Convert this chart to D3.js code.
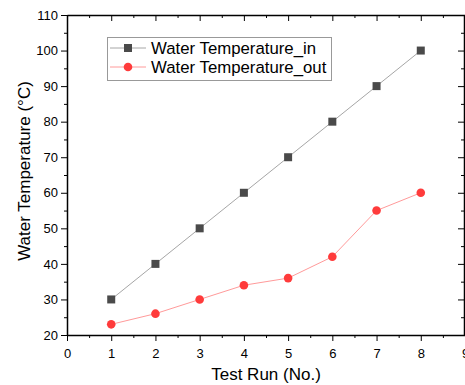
<!DOCTYPE html>
<html>
<head>
<meta charset="utf-8">
<script src="https://cdn.jsdelivr.net/npm/d3@7"></script>
<style>
  body { margin: 0; background: #fff; }
  svg { display: block; font-family: "Liberation Sans", Arial, sans-serif; }
</style>
</head>
<body>
<svg id="chart" width="465" height="385"></svg>
<script>
// data
const runs = [1, 2, 3, 4, 5, 6, 7, 8];
const tempIn = [30, 40, 50, 60, 70, 80, 90, 100];
const tempOut = [23, 26, 30, 34, 36, 42, 55, 60];
const xTicks = [0, 1, 2, 3, 4, 5, 6, 7, 8, 9];
const yTicks = [20, 30, 40, 50, 60, 70, 80, 90, 100, 110];
const seriesNames = ['Water Temperature_in', 'Water Temperature_out'];

const svg = d3.select('#chart');
const plotL = 67, plotR = 465, plotT = 15, plotB = 335;

const x = d3.scaleLinear().domain([0, 9]).range([plotL, plotR]);
const y = d3.scaleLinear().domain([20, 110]).range([plotB, plotT]);

const minorX = d3.range(0.5, 9, 1);
const minorY = d3.range(25, 110, 10);

// bottom axis
const bx = svg.append('g').attr('transform', `translate(0,${plotB})`)
  .call(d3.axisBottom(x).tickValues(xTicks).tickFormat(d3.format('d')).tickSize(6).tickSizeOuter(0));
svg.append('g').attr('transform', `translate(0,${plotB})`)
  .call(d3.axisBottom(x).tickValues(minorX).tickFormat('').tickSize(3).tickSizeOuter(0))
  .select('.domain').remove();

// left axis
svg.append('g').attr('transform', `translate(${plotL},0)`)
  .call(d3.axisLeft(y).tickValues(yTicks).tickFormat(d3.format('d')).tickSize(6).tickSizeOuter(0));
svg.append('g').attr('transform', `translate(${plotL},0)`)
  .call(d3.axisLeft(y).tickValues(minorY).tickFormat('').tickSize(3).tickSizeOuter(0))
  .select('.domain').remove();

// top axis, inward ticks
svg.append('g').attr('transform', `translate(0,${plotT})`)
  .call(d3.axisTop(x).tickValues(xTicks).tickFormat('').tickSize(-6).tickSizeOuter(0));
svg.append('g').attr('transform', `translate(0,${plotT})`)
  .call(d3.axisTop(x).tickValues(minorX).tickFormat('').tickSize(-3).tickSizeOuter(0))
  .select('.domain').remove();

// right axis, inward ticks
svg.append('g').attr('transform', `translate(${plotR - 1},0)`)
  .call(d3.axisRight(y).tickValues(yTicks).tickFormat('').tickSize(-6).tickSizeOuter(0));
svg.append('g').attr('transform', `translate(${plotR - 1},0)`)
  .call(d3.axisRight(y).tickValues(minorY).tickFormat('').tickSize(-3).tickSizeOuter(0))
  .select('.domain').remove();

svg.selectAll('.domain').attr('stroke', '#000').attr('stroke-width', 1.5);
svg.selectAll('.tick line').attr('stroke', '#000').attr('stroke-width', 1);
svg.selectAll('.tick text').attr('font-size', 13).attr('fill', '#000')
  .attr('font-family', '"Liberation Sans", Arial, sans-serif');
bx.selectAll('.tick text').attr('dy', '1.1em');

// axis titles
svg.append('text').attr('x', (plotL + plotR) / 2).attr('y', 380)
  .attr('text-anchor', 'middle').attr('font-size', 17).text('Test Run (No.)');
svg.append('text').attr('transform', `translate(30,171) rotate(-90)`)
  .attr('text-anchor', 'middle').attr('font-size', 17).text('Water Temperature (°C)');

// series
const line = d3.line().x(d => x(d[0])).y(d => y(d[1]));
const inPts = runs.map((r, i) => [r, tempIn[i]]);
const outPts = runs.map((r, i) => [r, tempOut[i]]);

svg.append('path').datum(inPts).attr('d', line)
  .attr('fill', 'none').attr('stroke', '#a6a6a6').attr('stroke-width', 1);
svg.append('path').datum(outPts).attr('d', line)
  .attr('fill', 'none').attr('stroke', '#ff9a9a').attr('stroke-width', 1);

svg.selectAll('rect.in').data(inPts).join('rect').attr('class', 'in')
  .attr('x', d => x(d[0]) - 4).attr('y', d => y(d[1]) - 4)
  .attr('width', 8).attr('height', 8).attr('fill', '#4a4a4a');
svg.selectAll('circle.out').data(outPts).join('circle').attr('class', 'out')
  .attr('cx', d => x(d[0])).attr('cy', d => y(d[1])).attr('r', 4.3)
  .attr('fill', '#ff3b3b');

// legend
const lg = svg.append('g');
lg.append('rect').attr('x', 107.5).attr('y', 37.5).attr('width', 224).attr('height', 43)
  .attr('fill', '#fff').attr('stroke', '#999').attr('stroke-width', 1);
seriesNames.forEach((name, i) => {
  const ly = 48 + i * 19;
  lg.append('line').attr('x1', 110).attr('x2', 146).attr('y1', ly).attr('y2', ly)
    .attr('stroke', i === 0 ? '#a6a6a6' : '#ff9a9a').attr('stroke-width', 1);
  if (i === 0) {
    lg.append('rect').attr('x', 124).attr('y', ly - 4).attr('width', 8).attr('height', 8).attr('fill', '#4a4a4a');
  } else {
    lg.append('circle').attr('cx', 128).attr('cy', ly).attr('r', 4.3).attr('fill', '#ff3b3b');
  }
  lg.append('text').attr('x', 151).attr('y', ly + 6).attr('font-size', 16.8).text(name);
});
</script>
</body>
</html>
